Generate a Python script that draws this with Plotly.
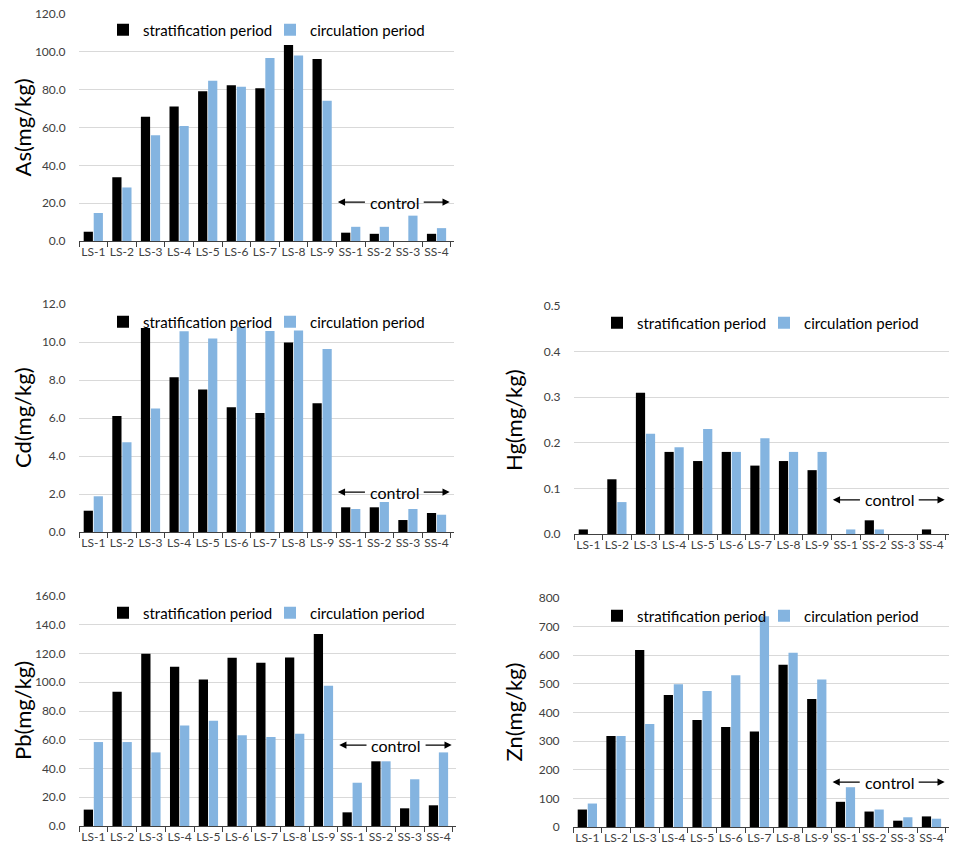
import plotly.graph_objects as go

sites = ["LS-1", "LS-2", "LS-3", "LS-4", "LS-5", "LS-6", "LS-7", "LS-8", "LS-9",
         "SS-1", "SS-2", "SS-3", "SS-4"]

as_strat = [4.9, 33.7, 65.7, 71.1, 79.1, 82.3, 80.7, 103.6, 96.2, 4.4, 3.8, 0.0, 3.8]
as_circ = [14.8, 28.3, 55.9, 60.8, 84.7, 81.6, 96.8, 98.0, 74.2, 7.5, 7.5, 13.4, 6.8]

cd_strat = [1.12, 6.10, 10.74, 8.14, 7.50, 6.57, 6.26, 9.98, 6.77, 1.30, 1.30, 0.63, 1.00]
cd_circ = [1.88, 4.73, 6.50, 10.56, 10.18, 10.80, 10.58, 10.60, 9.63, 1.21, 1.58, 1.21, 0.91]

hg_strat = [0.01, 0.12, 0.31, 0.18, 0.16, 0.18, 0.15, 0.16, 0.14, 0.0, 0.03, 0.0, 0.01]
hg_circ = [0.0, 0.07, 0.22, 0.19, 0.23, 0.18, 0.21, 0.18, 0.18, 0.01, 0.01, 0.0, 0.0]

pb_strat = [11.4, 93.4, 119.9, 110.8, 102.0, 117.1, 113.6, 117.3, 133.6, 9.5, 45.0, 12.3, 14.4]
pb_circ = [58.4, 58.4, 51.2, 70.0, 73.3, 63.1, 61.9, 64.2, 97.6, 30.1, 45.0, 32.5, 51.2]

zn_strat = [61, 318, 618, 461, 374, 349, 334, 567, 447, 88, 54, 22, 37]
zn_circ = [82, 318, 360, 499, 475, 530, 736, 609, 515, 139, 61, 34, 29]

series_names = ["stratification period", "circulation period"]
colors = ["#000000", "#84B4E0"]

W, H = 960, 858
FONT = "Lato, 'Liberation Sans', sans-serif"

panels = [
    dict(s=as_strat, c=as_circ, title="As(mg/kg)", rng=[0, 120], dtick=20, fmt=".1f",
         box=(79, 454, 14, 241), cy=20.6, ly=30, lx=103, tx=22),
    dict(s=cd_strat, c=cd_circ, title="Cd(mg/kg)", rng=[0, 12], dtick=2, fmt=".1f",
         box=(79, 454, 304, 532), cy=2.1, ly=322, lx=103, tx=22),
    dict(s=hg_strat, c=hg_circ, title="Hg(mg/kg)", rng=[0, 0.5], dtick=0.1, fmt=".1f",
         box=(574, 949, 306, 534), cy=0.075, ly=323, lx=597, tx=513),
    dict(s=pb_strat, c=pb_circ, title="Pb(mg/kg)", rng=[0, 160], dtick=20, fmt=".1f",
         box=(79, 456, 596, 826), cy=56.3, ly=613, lx=103, tx=22),
    dict(s=zn_strat, c=zn_circ, title="Zn(mg/kg)", rng=[0, 800], dtick=100, fmt="d",
         box=(573, 949, 598, 827), cy=157, ly=616, lx=597, tx=513),
]

fig = go.Figure()
layout = dict(
    width=W, height=H,
    margin=dict(l=0, r=0, t=0, b=0, autoexpand=False),
    paper_bgcolor="white", plot_bgcolor="white",
    barmode="group", bargap=0.3, bargroupgap=0.08,
    font=dict(family=FONT, color="#404040", size=12),
)
annotations = []

for i, p in enumerate(panels, start=1):
    xa = "x" if i == 1 else f"x{i}"
    ya = "y" if i == 1 else f"y{i}"
    lg = "legend" if i == 1 else f"legend{i}"
    for name, vals, col in zip(series_names, [p["s"], p["c"]], colors):
        fig.add_trace(go.Bar(x=sites, y=vals, name=name, marker=dict(color=col, line=dict(width=0)),
                             xaxis=xa, yaxis=ya, legend=lg))
    x0, x1, y0, y1 = p["box"]
    xkey = "xaxis" if i == 1 else f"xaxis{i}"
    ykey = "yaxis" if i == 1 else f"yaxis{i}"
    layout[xkey] = dict(
        domain=[x0 / W, x1 / W], anchor=ya, type="category",
        showline=True, linecolor="#404040", linewidth=1,
        ticks="outside", tickson="boundaries", ticklen=5, tickcolor="#404040",
        showgrid=False, tickangle=0, automargin=False,
        tickfont=dict(size=12, color="#404040", family=FONT),
    )
    layout[ykey] = dict(
        domain=[1 - y1 / H, 1 - y0 / H], anchor=xa, range=p["rng"], dtick=p["dtick"],
        tickformat=p["fmt"], showgrid=True, gridcolor="#d9d9d9", gridwidth=1,
        zeroline=False, showline=False, ticks="outside", ticklen=10, automargin=False,
        tickcolor="rgba(0,0,0,0)", tickfont=dict(size=12, color="#404040", family=FONT),
    )
    layout[lg] = dict(
        orientation="h", x=p["lx"] / W, y=1 - p["ly"] / H, xanchor="left", yanchor="middle",
        xref="paper", yref="paper", bgcolor="rgba(0,0,0,0)",
        font=dict(size=15, color="#000000", family=FONT),
        entrywidth=122, entrywidthmode="pixels", itemwidth=30,
    )
    annotations.append(dict(
        text=p["title"], x=p["tx"] / W, y=1 - ((y0 + y1) / 2) / H, xref="paper", yref="paper",
        textangle=-90, showarrow=False, font=dict(size=22, color="#000000", family=FONT),
        xanchor="center", yanchor="middle",
    ))
    annotations.append(dict(text="", x=8.55, y=p["cy"], ax=9.55, ay=p["cy"], xref=xa, yref=ya,
                            axref=xa, ayref=ya, showarrow=True, arrowhead=2, arrowsize=1.2,
                            arrowwidth=1.2, arrowcolor="#000000"))
    annotations.append(dict(text="", x=12.46, y=p["cy"], ax=11.5, ay=p["cy"], xref=xa, yref=ya,
                            axref=xa, ayref=ya, showarrow=True, arrowhead=2, arrowsize=1.2,
                            arrowwidth=1.2, arrowcolor="#000000"))
    annotations.append(dict(text="control", x=10.52, y=p["cy"], xref=xa, yref=ya,
                            showarrow=False, font=dict(size=16, color="#000000", family=FONT)))

layout["annotations"] = annotations
fig.update_layout(**layout)
fig.write_html("out.html")
